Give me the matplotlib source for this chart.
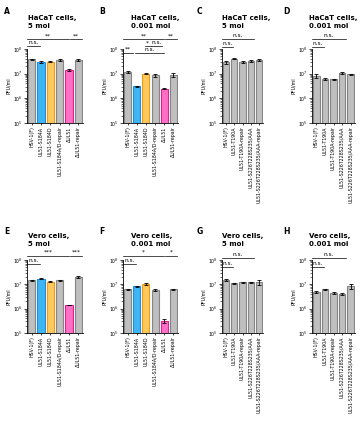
import numpy as np
import matplotlib
matplotlib.use("Agg")
import matplotlib.pyplot as plt
from matplotlib.ticker import LogLocator, NullFormatter

# --- datos ---
etiquetas_s184 = ["HSV-1(F)", "UL51-S184A", "UL51-S184D", "UL51-S184A/D-repair",
                  "ΔUL51", "ΔUL51-repair"]
etiquetas_t190 = ["HSV-1(F)", "UL51-T190A", "UL51-T190A-repair",
                  "UL51-S226T228S235/AAA", "UL51-S226T228S235/AAA-repair"]

A_vals = [3.9e7, 3.0e7, 3.1e7, 3.6e7, 1.4e7, 3.6e7]
A_err = [2e6, 2e6, 1.5e6, 3e6, 1e6, 3e6]
B_vals = [1.2e7, 3.1e6, 1.0e7, 8.8e6, 2.5e6, 8.9e6]
B_err = [1.2e6, 2e5, 6e5, 1.3e6, 2e5, 1.3e6]
C_vals = [2.9e7, 4.1e7, 3.0e7, 3.2e7, 3.6e7]
C_err = [5e6, 3e6, 2e6, 3e6, 3e6]
D_vals = [8.3e6, 6.2e6, 5.9e6, 1.07e7, 9.3e6]
D_err = [1.6e6, 6e5, 4e5, 8e5, 6e5]
E_vals = [1.45e7, 1.7e7, 1.3e7, 1.45e7, 1.4e6, 2.0e7]
E_err = [6e5, 6e5, 4e5, 5e5, 5e4, 1.5e6]
F_vals = [6.2e6, 8.4e6, 1.05e7, 6.0e6, 3.2e5, 6.3e6]
F_err = [4e5, 4e5, 1.2e6, 5e5, 6e4, 3e5]
G_vals = [1.5e7, 1.1e7, 1.2e7, 1.2e7, 1.2e7]
G_err = [1e6, 5e5, 6e5, 4e5, 3e6]
H_vals = [4.8e6, 6.2e6, 4.4e6, 4.1e6, 8.3e6]
H_err = [3e5, 3e5, 3e5, 4e5, 1.8e6]

titulos = {
    "A": "HaCaT cells,\n5 moi", "B": "HaCaT cells,\n0.001 moi",
    "C": "HaCaT cells,\n5 moi", "D": "HaCaT cells,\n0.001 moi",
    "E": "Vero cells,\n5 moi", "F": "Vero cells,\n0.001 moi",
    "G": "Vero cells,\n5 moi", "H": "Vero cells,\n0.001 moi",
}

GRIS = ("#bfbfbf", "#858585")
AZUL = ("#3fb5f4", "#1c8de0")
NARANJA = ("#ffc95e", "#f29b12")
ROSA = ("#ff6fc6", "#e3208c")
colores_s184 = [GRIS, AZUL, NARANJA, GRIS, ROSA, GRIS]
colores_t190 = [GRIS] * 5

# (x0, x1, y en fracción de ejes, texto)
signif = {
    "A": [(-0.45, 3.95, 1.135, "**"), (4.1, 5.4, 1.135, "**"), (-0.45, 0.9, 1.04, "n.s.")],
    "B": [(-0.45, 4.0, 1.135, "**"), (4.1, 5.4, 1.135, "**"),
          (1.85, 2.5, 1.04, "*"), (2.6, 3.7, 1.04, "n.s."),
          (-0.45, 0.6, 0.95, "**"), (0.8, 4.0, 0.95, "n.s.")],
    "C": [(-0.45, 3.4, 1.14, "n.s."), (-0.45, 0.9, 1.03, "n.s.")],
    "D": [(-0.45, 3.4, 1.14, "n.s."), (-0.45, 0.9, 1.03, "n.s.")],
    "E": [(-0.45, 3.95, 1.06, "***"), (4.1, 5.4, 1.06, "***"), (-0.45, 0.9, 0.95, "n.s.")],
    "F": [(-0.45, 3.95, 1.06, "*"), (4.1, 5.4, 1.06, "*"), (-0.45, 0.9, 0.95, "n.s.")],
    "G": [(-0.45, 3.4, 1.03, "n.s."), (-0.45, 0.9, 0.91, "n.s.")],
    "H": [(-0.45, 3.4, 1.03, "n.s."), (-0.45, 0.9, 0.91, "n.s.")],
}

paneles = [
    ("A", A_vals, A_err, etiquetas_s184, colores_s184),
    ("B", B_vals, B_err, etiquetas_s184, colores_s184),
    ("C", C_vals, C_err, etiquetas_t190, colores_t190),
    ("D", D_vals, D_err, etiquetas_t190, colores_t190),
    ("E", E_vals, E_err, etiquetas_s184, colores_s184),
    ("F", F_vals, F_err, etiquetas_s184, colores_s184),
    ("G", G_vals, G_err, etiquetas_t190, colores_t190),
    ("H", H_vals, H_err, etiquetas_t190, colores_t190),
]

# --- layout (px) ---
W, H = 362, 426
columnas = [(27, 83), (123, 178), (222, 263), (312, 355)]
filas = [(49, 123), (260, 333)]
titulo_x = [28, 131, 222, 309]
titulo_y = [22, 240]
letra_x = [4, 99, 197, 283]
letra_y = [12, 231]


def rect(l, r, t, b):
    return [l / W, 1 - b / H, (r - l) / W, (b - t) / H]


fig = plt.figure(figsize=(W / 100, H / 100), dpi=100)
plt.rcParams["font.family"] = "DejaVu Sans"

for k, (letra, vals, err, etiquetas, colores) in enumerate(paneles):
    fila, col = divmod(k, 4)
    l, r = columnas[col]
    t, b = filas[fila]
    ax = fig.add_axes(rect(l, r, t, b))
    x = np.arange(len(vals))
    ax.bar(x, vals, width=0.78, color=[c[0] for c in colores],
           edgecolor=[c[1] for c in colores], linewidth=0.8, zorder=2)
    ax.errorbar(x, vals, yerr=err, fmt="none", ecolor="black", elinewidth=0.6,
                capsize=1.2, capthick=0.6, zorder=3)
    ax.set_yscale("log")
    ax.set_ylim(1e5, 1e8)
    ax.set_xlim(-0.5, len(vals) - 0.5)
    ax.yaxis.set_major_locator(LogLocator(base=10, numticks=10))
    ax.yaxis.set_minor_locator(LogLocator(base=10, subs=np.arange(2, 10), numticks=10))
    ax.yaxis.set_minor_formatter(NullFormatter())
    ax.tick_params(axis="y", which="major", labelsize=3.3, length=2, width=0.5, pad=0.8)
    ax.tick_params(axis="y", which="minor", length=1.2, width=0.4)
    ax.set_xticks(x)
    ax.set_xticklabels(etiquetas, rotation=90, fontsize=3.4)
    ax.tick_params(axis="x", length=1.5, width=0.5, pad=1)
    ax.spines[["top", "right"]].set_visible(False)
    ax.spines[["left", "bottom"]].set_linewidth(0.6)
    ax.set_ylabel("PFU/ml", fontsize=3.4, labelpad=1.5)

    fig.text(titulo_x[col] / W, 1 - titulo_y[fila] / H, titulos[letra],
             fontsize=5, fontweight="bold", va="center", ha="left", linespacing=1.35)
    fig.text(letra_x[col] / W, 1 - letra_y[fila] / H, letra, fontsize=5.5,
             fontweight="bold", va="center", ha="left")

    trans = ax.get_xaxis_transform()
    for x0, x1, yf, txt in signif[letra]:
        ax.plot([x0, x1], [yf, yf], color="black", lw=0.5, transform=trans,
                clip_on=False)
        ax.text((x0 + x1) / 2, yf + 0.012, txt, transform=trans, fontsize=4.2,
                ha="center", va="bottom")

fig.savefig("out.png", dpi=100, facecolor="white")
